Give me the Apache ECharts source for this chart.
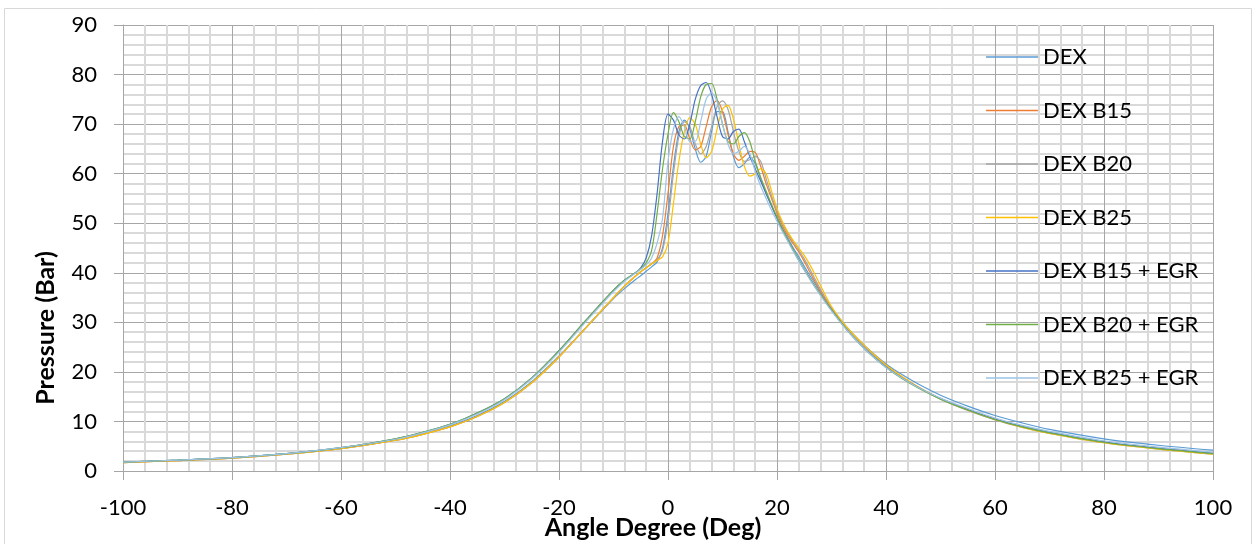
<!DOCTYPE html>
<html><head><meta charset="utf-8">
<script src="https://cdn.jsdelivr.net/npm/echarts@6/dist/echarts.min.js"></script>
<style>html,body{margin:0;padding:0;background:#fff}#c{width:1253px;height:544px}</style>
</head><body><div id="c"></div>
<script>
const angles = [-100,-90,-80,-70,-60,-50,-45,-40,-35,-30,-25,-20,-15,-10,-8,-6,-5,-4,-3,-2,-1,
  0,1,2,3,4,5,6,7,8,9,10,11,12,13,14,15,16,17,18,19,20,21,22,23,24,25,26,27,28,29,30,
  32,34,36,38,40,43,46,50,55,60,65,70,80,90,100];

const seriesNames = ['DEX','DEX B15','DEX B20','DEX B25','DEX B15 + EGR','DEX B20 + EGR','DEX B25 + EGR'];
const seriesColors = ['#5B9BD5','#ED7D31','#A5A5A5','#FFC000','#4472C4','#70AD47','#9DC3E6'];

const dex = [1.8,2.2,2.7,3.5,4.6,6.3,7.5,9.1,11.2,14.0,18.0,23.2,29.0,34.8,36.8,38.6,39.4,40.3,41.2,42.2,45,
  52,61.5,68.5,70.8,69,65,62.3,63.5,68.5,72.5,72.5,68.5,63.5,61.2,62,63.3,62,59,56,53.5,51.2,49,47,45,43.2,41.3,39.5,37.8,36.1,34.5,32.9,
  30.1,27.6,25.4,23.4,21.6,19.4,17.5,15.3,13.1,11.2,9.7,8.4,6.5,5.2,4.2];
const dexB15 = [1.7,2.1,2.6,3.4,4.5,6.2,7.4,8.9,11.0,13.8,17.8,23.0,29.0,35.0,37.3,39.3,40.2,41.0,41.8,43,47.5,
  56,65.5,69.5,69.8,67,64.8,65.5,69.5,73.5,74.8,72.5,68,64,62.7,63.5,64.5,64.3,61.5,58,55,52,49.5,47.5,45.8,44.2,42.3,40.2,38.2,36.2,34.4,32.7,
  29.8,27.4,25.2,23.2,21.3,18.9,16.9,14.6,12.3,10.4,8.9,7.7,5.8,4.5,3.5];
const dexB20 = [1.7,2.1,2.6,3.4,4.5,6.2,7.4,8.9,11.0,13.8,17.8,23.0,29.0,35.0,37.3,39.3,40.2,41.0,41.8,42.6,44.5,
  50.5,60,67.5,70.5,69.5,66,64,65.5,69.5,73.5,74.7,73,68.5,64.5,62.5,62.8,63.5,62.5,59,55.5,52.5,50,48,46.2,44.6,42.8,40.8,38.7,36.6,34.7,32.9,
  29.9,27.4,25.2,23.1,21.2,18.8,16.8,14.5,12.2,10.3,8.8,7.6,5.7,4.4,3.4];
const dexB25 = [1.7,2.1,2.6,3.4,4.5,6.2,7.4,8.9,11.0,13.8,17.8,23.0,29.0,35.0,37.3,39.3,40.2,41.0,41.8,42.5,43.2,
  46,54,62.5,68.5,71.3,70,66,63.2,64.5,69,73,73.8,71,66,61.5,59.5,60,61,60,56.5,53,50.3,48.2,46.5,45,43.5,41.7,39.6,37.4,35.2,33.2,
  30.1,27.6,25.4,23.3,21.4,19.0,16.9,14.6,12.3,10.4,8.8,7.6,5.7,4.4,3.4];
const dexB15Egr = [1.8,2.2,2.7,3.5,4.7,6.5,7.8,9.4,11.7,14.6,18.8,24.3,30.5,36.5,38.5,40.0,41.0,43.0,47.5,56,66.5,
  72,70.8,67.8,67,70,75,77.8,78.4,76,71.5,67.5,67,68.5,69,66.5,63.5,61,58.5,56,53.5,51,48.7,46.5,44.5,42.5,40.6,38.9,37.2,35.6,34,32.5,
  29.6,27.0,24.8,22.8,21.0,18.7,16.8,14.6,12.4,10.5,9.0,7.8,5.9,4.6,3.6];
const dexB20Egr = [1.8,2.2,2.7,3.5,4.7,6.5,7.8,9.4,11.7,14.6,18.8,24.3,30.5,36.5,38.5,40.0,40.8,42.0,44.5,52,61,
  68,72.3,70.5,67.5,67,70.5,75.5,78,78.2,75,70,66.5,66,67.5,68.3,66.5,62.5,59.3,56.5,53.8,51.2,48.8,46.6,44.6,42.6,40.7,38.9,37.2,35.6,34,32.5,
  29.6,27.0,24.7,22.7,20.9,18.6,16.7,14.5,12.3,10.4,8.9,7.7,5.8,4.5,3.5];
const dexB25Egr = [1.8,2.2,2.7,3.5,4.7,6.4,7.7,9.3,11.5,14.4,18.6,24.0,30.2,36.2,38.3,39.9,40.7,41.6,43.0,46,51,
  62.5,69,71.5,69.5,66.5,66.5,70.5,75,76.3,74.5,70,66,64,64.5,65.5,64,60.5,57.5,55,52.6,50.4,48.3,46.3,44.3,42.4,40.5,38.7,37,35.4,33.8,32.3,
  29.5,27.0,24.7,22.7,20.9,18.7,16.8,14.7,12.6,10.7,9.2,8.0,6.1,4.8,3.8];

const xTicks = {min:-100, max:100, interval:20};
const yTicks = {min:0, max:90, interval:10};

const allValues = [dex, dexB15, dexB20, dexB25, dexB15Egr, dexB20Egr, dexB25Egr];
const FONT = 'Lato';
const majorColor = '#a6a6a6';
const minorColor = '#d9d9d9';

const chart = echarts.init(document.getElementById('c'), null, {renderer:'canvas'});
const axisCommon = {
  type:'value',
  axisLine:{show:true, onZero:false, lineStyle:{color:majorColor, width:1}},
  axisTick:{show:true, length:9, lineStyle:{color:majorColor}},
  splitLine:{show:true, lineStyle:{color:majorColor, width:1}},
  minorTick:{show:false, splitNumber:5},
  minorSplitLine:{show:true, lineStyle:{color:minorColor, width:2}}
};
chart.setOption({
  animation:false,
  backgroundColor:'#ffffff',
  grid:{left:123, right:40, top:25, bottom:73, containLabel:false},
  xAxis:Object.assign({}, axisCommon, {
    min:xTicks.min, max:xTicks.max, interval:xTicks.interval,
    axisLabel:{fontFamily:FONT, fontSize:22, color:'#000', margin:26}
  }),
  yAxis:Object.assign({}, axisCommon, {
    min:yTicks.min, max:yTicks.max, interval:yTicks.interval,
    axisLabel:{fontFamily:FONT, fontSize:22, color:'#000', margin:26, padding:[7,0,0,0]}
  }),
  legend:{
    orient:'vertical', left:981, top:41, itemWidth:52, itemHeight:1.5, itemGap:31.5,
    icon:'rect', data:seriesNames,
    textStyle:{fontFamily:FONT, fontSize:22, color:'#000', lineHeight:22}
  },
  series: seriesNames.map((name, k) => ({
    name, type:'line', symbol:'none', showSymbol:false, smooth:0.3,
    color:seriesColors[k],
    lineStyle:{width:1.2, color:seriesColors[k]},
    data: angles.map((a, i) => [a, allValues[k][i]])
  })),
  graphic:[
    {type:'rect', shape:{x:4.5, y:8.5, width:1247, height:560}, style:{fill:'none', stroke:'#d9d9d9', lineWidth:1}, silent:true},
    {type:'text', x:653, y:528, style:{text:'Angle Degree (Deg)', font:'bold 25px Lato', fill:'#000', textAlign:'center', textVerticalAlign:'middle'}},
    {type:'text', x:46, y:328, rotation:Math.PI/2, style:{text:'Pressure (Bar)', font:'bold 25px Lato', fill:'#000', textAlign:'center', textVerticalAlign:'middle'}}
  ]
});
</script>
</body></html>
